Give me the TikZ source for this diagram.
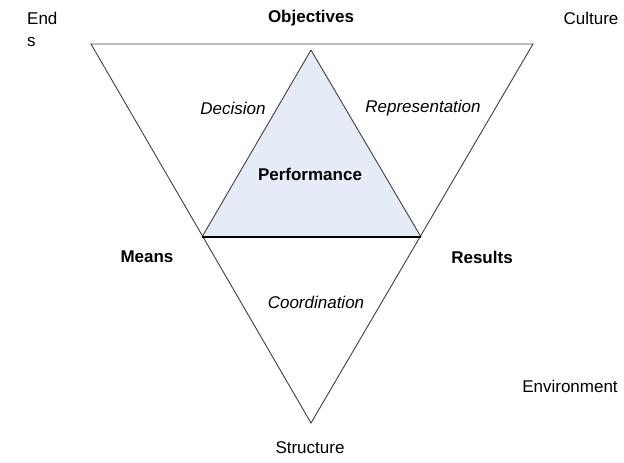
\documentclass[tikz,border=0pt]{standalone}
\usepackage{fontspec}
\setmainfont{Liberation Sans}
\definecolor{perfblue}{HTML}{E6ECF7}
\tikzset{
  lbl/.style={inner sep=0pt, font=\fontsize{17}{22}\selectfont},
  lblb/.style={lbl, font=\fontsize{17}{22}\selectfont\bfseries},
  lbli/.style={lbl, font=\fontsize{17}{22}\selectfont\itshape},
  edge/.style={draw=black!75, line width=0.9pt}
}
\begin{document}
\begin{tikzpicture}[x=1pt,y=-1pt]
  \useasboundingbox (0,0) rectangle (624,463);

  % outer triangle
  \coordinate (tl) at (91,44);
  \coordinate (tr) at (533,44);
  \coordinate (bot) at (311,423);
  % inner triangle
  \coordinate (apex) at (311,50);
  \coordinate (ml) at (202,237);
  \coordinate (mr) at (421,237);

  \fill[perfblue] (apex) -- (ml) -- (mr) -- cycle;
  \draw[edge] (apex) -- (ml);
  \draw[edge] (apex) -- (mr);
  \draw[edge] (tl) -- (tr) -- (bot) -- cycle;
  \draw[black, line width=1.3pt] (ml) -- (mr);

  \node[lbl, anchor=west, align=left] (ends) at (27,29) {End\\s};
  \node[lblb] (obj) at (311,18) {Objectives};
  \node[lbl] (cult) at (591,18) {Culture};
  \node[lbli] (dec) at (233,108) {Decision};
  \node[lbli] (rep) at (423,108) {Representation};
  \node[lblb] (perf) at (310,174) {Performance};
  \node[lblb] (means) at (147,257) {Means};
  \node[lblb] (res) at (482,257) {Results};
  \node[lbli] (coord) at (316,302) {Coordination};
  \node[lbl] (env) at (570,386) {Environment};
  \node[lbl] (struc) at (310,448) {Structure};
\end{tikzpicture}
\end{document}
